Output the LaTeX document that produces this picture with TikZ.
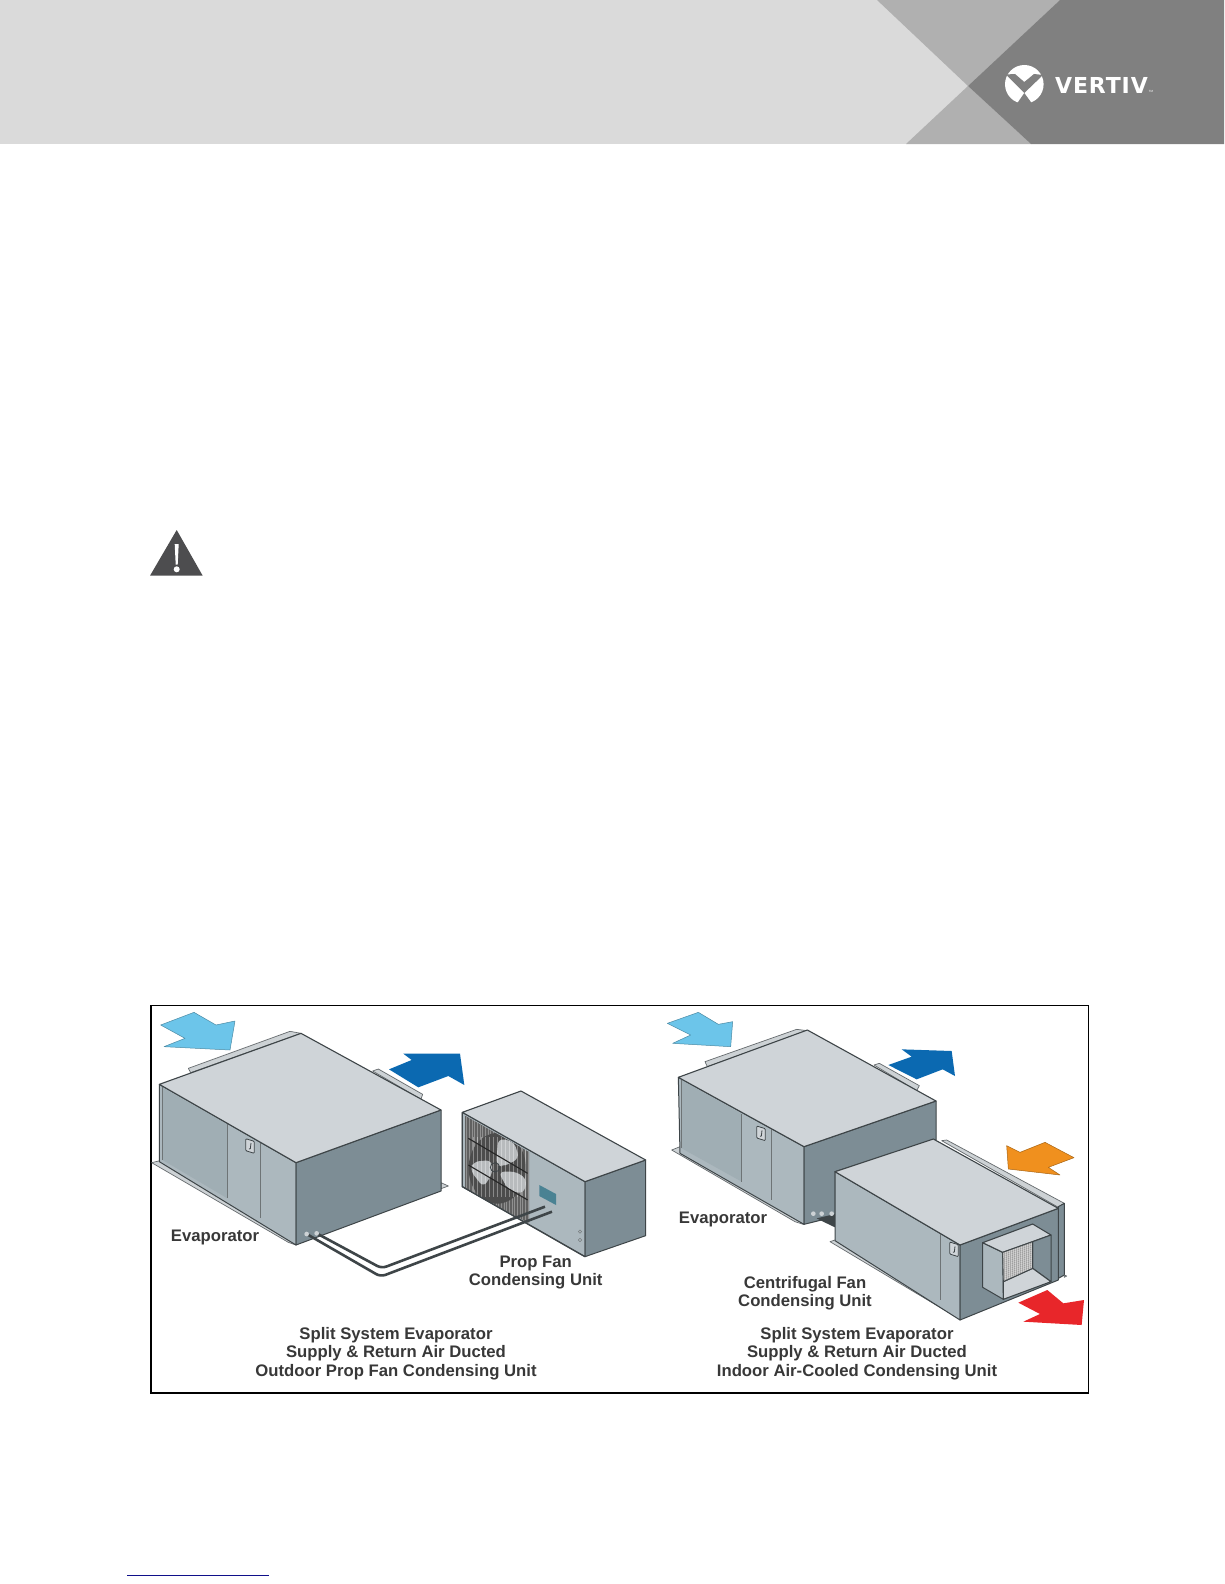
\documentclass[tikz,border=0pt]{standalone}
\usepackage{fontspec}
\setmainfont{Liberation Sans}
\newfontfamily\logofont[LetterSpace=4]{DejaVu Sans}
\usepackage{tikz}

\definecolor{bandlight}{HTML}{DADADA}
\definecolor{bandmid}{HTML}{B0B0B0}
\definecolor{banddark}{HTML}{808080}
\definecolor{signgray}{HTML}{4D4D4F}
\definecolor{edgegray}{HTML}{3E4548}
\definecolor{topgray}{HTML}{CFD4D8}
\definecolor{frontgray}{HTML}{ACB8BE}
\definecolor{panelgray}{HTML}{A0AEB4}
\definecolor{sidegray}{HTML}{7D8D95}
\definecolor{flangegray}{HTML}{CDD2D5}
\definecolor{bladegray}{HTML}{B8BBBD}
\definecolor{coolair}{HTML}{6CC5EA}
\definecolor{supplyair}{HTML}{0B69B1}
\definecolor{warmair}{HTML}{F0901E}
\definecolor{hotair}{HTML}{E8262A}
\definecolor{screenteal}{HTML}{4A8293}
\definecolor{linkblue}{HTML}{10108A}

% draws a door latch, centre given in the coordinates of the scope
\newcommand{\latch}[2]{
    \draw[edgegray, fill=topgray, line width=0.8pt, rounded corners=1pt]
        (#1-13,#2-22) -- (#1+13,#2-14) -- (#1+13,#2+22) -- (#1-13,#2+14) -- cycle;
    \draw[edgegray, line width=0.8pt] (#1+3,#2-9) -- (#1+1,#2+8) -- (#1-3,#2+9);
}

\begin{document}
\begin{tikzpicture}[
    x=1pt, y=-1pt,
    caption/.style={font=\bfseries\fontsize{16.7}{18.4}\selectfont, text=black!78, align=center, inner sep=0pt},
    facetop/.style={fill=topgray, draw=edgegray, line width=1.1pt, line join=round},
    facefront/.style={fill=frontgray, draw=edgegray, line width=1pt, line join=round},
    faceside/.style={fill=sidegray, draw=edgegray, line width=1pt, line join=round},
    flange/.style={fill=flangegray, draw=edgegray!80, line width=0.7pt, line join=round},
    seam/.style={draw=edgegray!75, line width=0.7pt},
    pipe/.style={draw=edgegray, line width=2.6pt, rounded corners=5pt},
    blade/.style={fill=bladegray, rounded corners=6pt},
    airarrow/.style={line width=0.5pt, line join=round},
    zoomleft/.style={shift={(140,990)}, x=0.33333pt, y=-0.33333pt},
    zoomright/.style={shift={(650,990)}, x=0.33333pt, y=-0.33333pt}
]
    \useasboundingbox[fill=white] (0,0) rectangle (1224,1584);

    % page band
    \fill[bandlight] (0,0) rectangle (1224,144);
    \fill[bandmid] (877,0) -- (1060,0) -- (968,86) -- cycle;
    \fill[bandmid] (968,86) -- (1031,144) -- (906,144) -- cycle;
    \fill[banddark] (1060,0) -- (1224,0) -- (1224,144) -- (1031,144) -- (968,86) -- cycle;

    % logo
    \fill[white] (1024.3,84.3) circle (19.3);
    \fill[banddark] (1006,74.5) -- (1015,74) -- (1024.3,82) -- (1034,74) -- (1043,75) -- (1024.3,93) -- (1033,105) -- (1016,105) -- (1024.3,93) -- cycle;
    \node[text=white, inner sep=0pt] (brand) at (1101.5,85) {\logofont\bfseries\fontsize{22}{22}\selectfont VERTIV};
    \node[text=white, inner sep=0pt] (brandmark) at (1151,91) {\fontsize{3}{3}\selectfont TM};

    % warning sign
    \fill[signgray] (176.7,530) -- (202.7,575.7) -- (150,575.7) -- cycle;
    \fill[white] (174.7,544) -- (178.7,544) -- (177.7,564.5) -- (175.7,564.5) -- cycle;
    \fill[white] (176.7,569.3) circle (3);

    % figure frame
    \draw[black, line width=1.6pt] (150.7,1005.3) rectangle (1088.5,1392.7);

    \begin{scope}[zoomleft]
        % left evaporator
        \draw[flange] (145,235) -- (450,124) -- (483,130) -- (152,248) -- cycle;
        \draw[flange] (698,243) -- (715,237) -- (848,313) -- (843,328) -- cycle;
        \draw[flange] (903,578) -- (925,588) -- (903,596) -- cycle;
        \draw[flange] (35,518) -- (60,512) -- (468,745) -- (468,765) -- (445,757) -- cycle;
        \draw[facefront] (58,283) -- (468,518) -- (468,765) -- (58,515) -- cycle;
        \fill[panelgray] (68,292) -- (262,403) -- (262,625) -- (68,510) -- cycle;
        \draw[seam] (262,403) -- (262,625);
        \draw[seam] (362,460) -- (362,685);
        \draw[seam] (68,292) -- (68,510);
        \draw[faceside] (468,518) -- (903,360) -- (903,603) -- (468,765) -- cycle;
        \draw[facetop] (58,283) -- (483,130) -- (903,360) -- (468,518) -- cycle;
        \latch{330}{468}

        % air arrows
        \draw[airarrow, fill=coolair, draw=coolair!70!black] (62,105) -- (162,67) -- (228,105) -- (285,93) -- (270,180) -- (72,170) -- (135,145) -- cycle;
        \fill[supplyair] (747,238) -- (815,210) -- (790,191) -- (960,191) -- (973,285) -- (925,258) -- (835,292) -- cycle;

        % prop fan unit
        \draw[facefront] (967,367) -- (1335,575) -- (1335,800) -- (967,590) -- cycle;
        \fill[gray!75!black] (975,377) -- (1167,486) -- (1167,700) -- (975,596) -- cycle;
        \begin{scope}
            \clip (975,377) -- (1167,486) -- (1167,700) -- (975,596) -- cycle;
            \foreach \stripe in {980,988,...,1165} {
                \draw[white, opacity=0.3, line width=0.5pt] (\stripe,370) -- (\stripe,710);
            }
            \fill[black!70] (1072,535) ellipse (86 and 106);
            \fill[blade] (1068,525) -- (1075,445) -- (1122,455) -- (1138,505) -- (1090,530) -- cycle;
            \fill[blade] (1055,510) -- (1000,515) -- (990,540) -- (1030,592) -- (1058,550) -- cycle;
            \fill[blade] (1075,545) -- (1130,545) -- (1162,570) -- (1150,612) -- (1105,600) -- cycle;
            \foreach \stripe in {1000,1012,...,1160} {
                \draw[white, opacity=0.35, line width=0.5pt] (\stripe,440) -- (\stripe,620);
            }
        \end{scope}
        \draw[edgegray, line width=0.8pt] (1065,532) circle (14);
        \draw[black!85, line width=1.1pt] (985,445) -- (1163,550);
        \draw[black!85, line width=1.1pt] (985,525) -- (1163,630);
        \fill[screenteal] (1198,585) -- (1248,612) -- (1248,645) -- (1198,618) -- cycle;
        \draw[faceside] (1335,575) -- (1517,510) -- (1517,737) -- (1335,800) -- cycle;
        \draw[facetop] (967,367) -- (1143,303) -- (1517,510) -- (1335,575) -- cycle;
        \draw[edgegray, line width=1.3pt] (967,367) -- (967,590) -- (1335,800);
        \draw[edgegray!70, line width=0.5pt] (1320,725) circle (5);
        \draw[edgegray!70, line width=0.5pt] (1320,750) circle (5);

        % refrigerant lines
        \coordinate (liquidstart) at (500,732);
        \coordinate (liquidbend) at (722,860);
        \coordinate (liquidend) at (1236,665);
        \coordinate (suctionstart) at (530,730);
        \coordinate (suctionbend) at (725,835);
        \coordinate (suctionend) at (1215,650);
        \draw[pipe] (liquidstart) -- (liquidbend) -- (liquidend);
        \draw[pipe] (suctionstart) -- (suctionbend) -- (suctionend);
        \fill[flangegray] (liquidstart) circle (7);
        \fill[flangegray] (suctionstart) circle (7);
    \end{scope}

    \begin{scope}[zoomright]
        % right evaporator
        \draw[flange] (165,215) -- (440,118) -- (472,122) -- (172,230) -- cycle;
        \draw[flange] (672,225) -- (688,220) -- (808,287) -- (800,302) -- cycle;
        \draw[flange] (65,480) -- (90,470) -- (462,680) -- (460,703) -- (435,695) -- cycle;
        \draw[facefront] (85,262) -- (462,470) -- (462,703) -- (90,490) -- cycle;
        \fill[panelgray] (95,270) -- (275,371) -- (275,575) -- (95,475) -- cycle;
        \draw[seam] (275,371) -- (275,575);
        \draw[seam] (365,418) -- (365,630);
        \draw[seam] (95,270) -- (95,475);
        \draw[faceside] (462,470) -- (858,333) -- (858,450) -- (555,545) -- (555,680) -- (462,703) -- cycle;
        \draw[facetop] (85,262) -- (472,120) -- (858,333) -- (462,470) -- cycle;
        \latch{333}{430}
        \fill[edgegray] (500,685) -- (555,672) -- (555,712) -- (530,700) -- cycle;
        \foreach \portx in {490,515,545} {
            \fill[flangegray] (\portx,671) circle (7);
        }

        % centrifugal condensing unit
        \draw[flange] (875,452) -- (890,450) -- (1243,640) -- (1225,652) -- cycle;
        \draw[faceside] (1225,650) -- (1243,640) -- (1243,855) -- (1225,865) -- cycle;
        \draw[flange] (1243,855) -- (1250,858) -- (1243,862) -- cycle;
        \draw[flange] (540,755) -- (555,750) -- (930,965) -- (925,985) -- cycle;
        \draw[facefront] (555,545) -- (930,765) -- (930,990) -- (555,752) -- cycle;
        \draw[seam] (870,730) -- (870,930);
        \draw[faceside] (930,765) -- (1225,655) -- (1225,870) -- (930,990) -- cycle;
        \draw[facetop] (555,545) -- (850,447) -- (1225,655) -- (930,765) -- cycle;
        \latch{912}{778}

        % outlet duct
        \draw[facefront] (998,758) -- (1058,787) -- (1060,928) -- (998,892) -- cycle;
        \draw[facetop] (998,758) -- (1148,702) -- (1203,735) -- (1058,787) -- cycle;
        \draw[faceside] (1148,755) -- (1203,735) -- (1203,875) -- (1148,835) -- cycle;
        \draw[facetop] (1060,875) -- (1148,835) -- (1203,875) -- (1060,928) -- cycle;
        \begin{scope}
            \clip (1058,787) -- (1148,755) -- (1148,835) -- (1060,875) -- cycle;
            \fill[gray!75] (1050,750) rectangle (1150,880);
            \foreach \meshx in {1060,1066,...,1148} {
                \draw[white, opacity=0.4, line width=0.4pt] (\meshx,750) -- (\meshx,880);
            }
            \foreach \meshy in {745,751,...,880} {
                \draw[white, opacity=0.4, line width=0.4pt] (1050,\meshy) -- (1150,\meshy-32);
            }
        \end{scope}
        \draw[edgegray, line width=0.9pt] (1058,787) -- (1148,755) -- (1148,835) -- (1060,875) -- cycle;

        % air arrows
        \draw[airarrow, fill=coolair, draw=coolair!70!black] (52,100) -- (145,67) -- (205,103) -- (248,95) -- (242,170) -- (68,160) -- (122,135) -- cycle;
        \fill[supplyair] (715,225) -- (785,200) -- (755,178) -- (905,183) -- (915,258) -- (878,238) -- (800,268) -- cycle;
        \draw[airarrow, fill=warmair, draw=warmair!70!black] (1070,467) -- (1110,487) -- (1185,457) -- (1272,503) -- (1195,532) -- (1230,555) -- (1075,537) -- cycle;
        \fill[hotair] (1105,938) -- (1192,900) -- (1240,940) -- (1302,930) -- (1295,1005) -- (1120,995) -- (1170,972) -- cycle;
    \end{scope}

    % labels
    \node[caption] (evapleft) at (215,1237.5) {Evaporator};
    \node[caption] (evapright) at (723,1219) {Evaporator};
    \node[caption] (propfan) at (535.7,1272.5) {Prop Fan\\Condensing Unit};
    \node[caption] (centrifugal) at (805,1293.5) {Centrifugal Fan\\Condensing Unit};
    \node[caption] (titleleft) at (396,1353.5) {Split System Evaporator\\Supply \& Return Air Ducted\\Outdoor Prop Fan Condensing Unit};
    \node[caption] (titleright) at (857,1353.5) {Split System Evaporator\\Supply \& Return Air Ducted\\Indoor Air-Cooled Condensing Unit};

    % footer link rule
    \coordinate (linkstart) at (127.3,1575.3);
    \coordinate (linkend) at (269,1575.3);
    \draw[linkblue, line width=1pt] (linkstart) -- (linkend);
\end{tikzpicture}
\end{document}
